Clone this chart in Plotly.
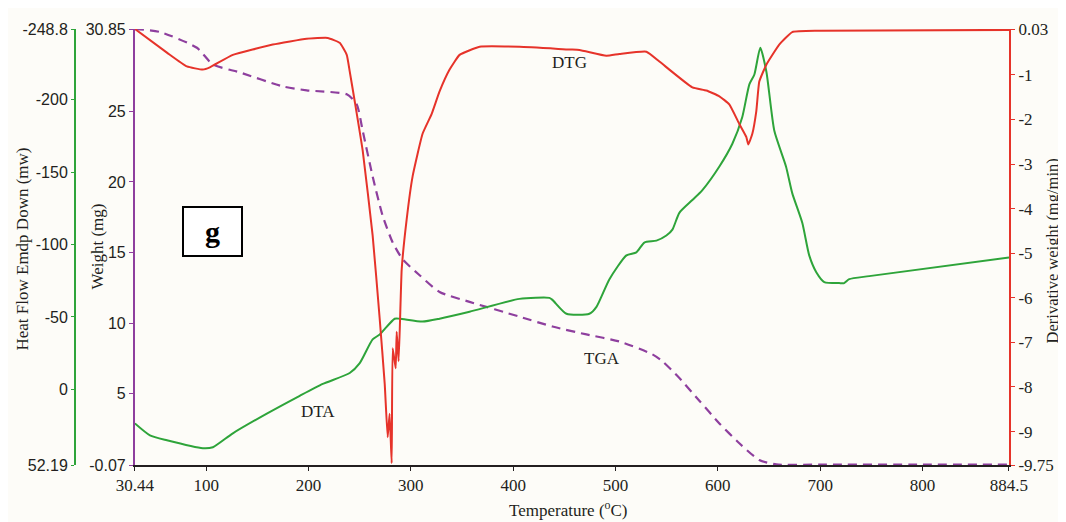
import plotly.graph_objects as go

# ---------------- data ----------------
tga_temp = [30.44, 54.8, 91.0, 106.6, 132.9, 174.9, 198.3, 237.4, 247.1, 253.0, 262.7,
            272.5, 282.3, 292.0, 308.6, 328.1, 357.4, 406.2, 438.4, 471.6, 503.8, 536.0,
            545.8, 562.4, 581.9, 601.5, 621.0, 640.5, 657.1, 700.0, 800.0, 884.5]
tga_weight = [30.85, 30.64, 29.52, 28.33, 27.77, 26.78, 26.50, 26.22, 25.52, 23.63, 20.40,
              17.60, 15.71, 14.52, 13.39, 12.20, 11.50, 10.45, 9.75, 9.19, 8.69, 7.78,
              7.29, 6.10, 4.49, 2.88, 1.47, 0.28, -0.03, -0.04, -0.04, -0.04]

dtg_temp = [30.44, 61.7, 81.2, 96.8, 103.6, 126.1, 165.1, 198.3, 218.8, 230.5, 237.4,
            240.3, 245.2, 253.0, 262.7, 269.6, 274.5, 277.4, 279.3, 281.3, 282.3, 285.2,
            286.2, 288.1, 291.1, 295.9, 301.8, 311.5, 320.3, 328.1, 337.9, 347.7, 367.2,
            406.2, 455.0, 464.8, 491.1, 503.8, 530.2, 542.9, 575.1, 588.8, 601.5, 611.2,
            621.0, 627.8, 629.8, 633.7, 637.6, 640.5, 647.4, 660.0, 672.7, 699.1, 884.5]
dtg_value = [0.03, -0.50, -0.81, -0.88, -0.83, -0.55, -0.32, -0.19, -0.17, -0.28, -0.55,
             -0.92, -1.59, -2.70, -4.60, -6.47, -7.93, -9.13, -8.60, -9.71, -7.13, -7.58,
             -6.76, -7.42, -5.36, -4.25, -3.27, -2.32, -1.88, -1.37, -0.88, -0.55, -0.37,
             -0.37, -0.43, -0.44, -0.57, -0.53, -0.48, -0.70, -1.28, -1.35, -1.48, -1.66,
             -2.10, -2.39, -2.56, -2.32, -1.81, -1.15, -0.77, -0.32, -0.04, -0.01, 0.01]

dta_temp = [30.44, 45.1, 61.7, 96.8, 106.6, 126.1, 159.3, 191.5, 214.0, 240.3, 250.1,
            262.7, 269.6, 284.2, 289.1, 311.5, 328.1, 357.4, 406.2, 435.5, 438.4, 452.1,
            474.5, 481.4, 494.1, 510.7, 520.4, 528.2, 540.0, 549.7, 555.6, 562.4, 575.1,
            584.9, 601.5, 614.2, 623.9, 630.8, 635.7, 641.5, 647.4, 655.2, 666.6, 672.7,
            682.5, 689.3, 696.2, 704.0, 718.6, 723.5, 728.4, 747.9, 884.5]
dta_heat = [23.5, 31.7, 35.1, 40.6, 39.9, 30.3, 16.7, 4.4, -3.8, -11.3, -18.1,
            -34.5, -37.9, -48.8, -48.8, -46.8, -48.8, -53.6, -62.5, -63.2, -61.8, -52.2,
            -52.2, -57.0, -76.1, -92.5, -94.6, -101.4, -102.7, -106.2, -110.3, -121.9, -130.7,
            -137.6, -153.9, -169.6, -188.1, -210.6, -217.4, -235.8, -219.5, -178.5, -153.9, -135.5,
            -115.0, -92.5, -80.9, -74.1, -73.4, -73.4, -76.1, -78.2, -91.1]

x_ticks = [30.44, 100, 200, 300, 400, 500, 600, 700, 800, 884.5]
x_ticktext = ["30.44", "100", "200", "300", "400", "500", "600", "700", "800", "884.5"]
w_ticks = [-0.07, 5, 10, 15, 20, 25, 30.85]
w_ticktext = ["-0.07", "5", "10", "15", "20", "25", "30.85"]
h_ticks = [52.19, 0, -50, -100, -150, -200, -248.8]
h_ticktext = ["52.19", "0", "-50", "-100", "-150", "-200", "-248.8"]
d_ticks = [0.03, -1, -2, -3, -4, -5, -6, -7, -8, -9, -9.75]
d_ticktext = ["0.03", "-1", "-2", "-3", "-4", "-5", "-6", "-7", "-8", "-9", "-9.75"]

# ---------------- styling ----------------
RED = "#e6332a"
PURPLE = "#8e3f9e"
GREEN = "#2ea43a"
SERIF = "Liberation Serif"
SANS = "Liberation Sans"
BG = "#fdfcf8"
TXT = "#231f20"

OFF = 8  # page body margin offset in the screenshot
W, H = 1066 - OFF, 522 - OFF
ML, MR, MT, MB = 67, 56, 16, 57
plot_w = W - ML - MR
plot_h = H - MT - MB
x0_frac = (135 - OFF - ML) / plot_w


def px_x(p):
    return (p - OFF - ML) / plot_w


def px_y(p):
    return (H - MB - (p - OFF)) / plot_h


fig = go.Figure()

fig.add_trace(go.Scatter(x=dta_temp, y=dta_heat, yaxis="y2", mode="lines",
                         line=dict(color=GREEN, width=2, shape="spline", smoothing=0.6),
                         name="DTA", hoverinfo="skip"))
fig.add_trace(go.Scatter(x=tga_temp, y=tga_weight, yaxis="y", mode="lines",
                         line=dict(color=PURPLE, width=2.2, dash="9px,6px", shape="spline", smoothing=0.6),
                         name="TGA", hoverinfo="skip"))
fig.add_trace(go.Scatter(x=dtg_temp, y=dtg_value, yaxis="y3", mode="lines",
                         line=dict(color=RED, width=2, shape="spline", smoothing=0.4),
                         name="DTG", hoverinfo="skip"))

fig.update_layout(
    width=W, height=H,
    margin=dict(l=ML, r=MR, t=MT, b=MB),
    paper_bgcolor=BG, plot_bgcolor=BG,
    showlegend=False,
    xaxis=dict(domain=[x0_frac, 1], range=[30.44, 884.5], tickvals=x_ticks, ticktext=x_ticktext,
               showline=True, linecolor=TXT, linewidth=2, ticks="outside", ticklen=4,
               tickcolor=TXT, tickfont=dict(family=SERIF, size=17, color=TXT),
               showgrid=False, zeroline=False),
    yaxis=dict(range=[-0.07, 30.85], tickvals=w_ticks, ticktext=w_ticktext, anchor="x", side="left",
               showline=True, linecolor=PURPLE, linewidth=2, ticks="outside", ticklen=4,
               tickcolor=PURPLE, tickfont=dict(family=SANS, size=16, color=TXT),
               showgrid=False, zeroline=False),
    yaxis2=dict(range=[52.19, -248.8], tickvals=h_ticks, ticktext=h_ticktext, overlaying="y",
                anchor="free", position=0, side="left",
                showline=True, linecolor=GREEN, linewidth=2, ticks="outside", ticklen=3,
                tickcolor=GREEN, tickfont=dict(family=SANS, size=16, color=TXT),
                showgrid=False, zeroline=False),
    yaxis3=dict(range=[-9.75, 0.03], tickvals=d_ticks, ticktext=d_ticktext, overlaying="y",
                anchor="x", side="right",
                showline=True, linecolor=RED, linewidth=2, ticks="outside", ticklen=4,
                tickcolor=RED, tickfont=dict(family=SERIF, size=17, color=TXT),
                showgrid=False, zeroline=False),
)

annots = [
    dict(text="Heat Flow Emdp Down (mw)", x=px_x(22), y=px_y(247), textangle=-90,
         font=dict(family=SERIF, size=17, color=TXT)),
    dict(text="Weight (mg)", x=px_x(98), y=px_y(244), textangle=-90,
         font=dict(family=SERIF, size=17, color=TXT)),
    dict(text="Derivative weight (mg/min)", x=px_x(1054), y=px_y(248), textangle=-90,
         font=dict(family=SERIF, size=16.5, color=TXT)),
    dict(text="Temperature (<sup>o</sup>C)", x=px_x(569), y=px_y(510),
         font=dict(family=SERIF, size=17, color=TXT)),
]
for a in annots:
    fig.add_annotation(xref="paper", yref="paper", showarrow=False,
                       xanchor="center", yanchor="middle", **a)

labels = [("DTG", 455, 28.47), ("TGA", 487.3, 7.5), ("DTA", 209.1, 3.72)]
for t, xv, yv in labels:
    fig.add_annotation(xref="x", yref="y", x=xv, y=yv, text=t, showarrow=False,
                       font=dict(family=SERIF, size=17, color=TXT))

fig.add_annotation(xref="x", yref="y", x=106.6, y=16.48, text="<b>g</b>", showarrow=False,
                   font=dict(family=SERIF, size=30, color="#000"),
                   bordercolor="#000", borderwidth=2, borderpad=0, bgcolor="white",
                   width=57, height=47, valign="middle")

fig.write_html("out.html")
